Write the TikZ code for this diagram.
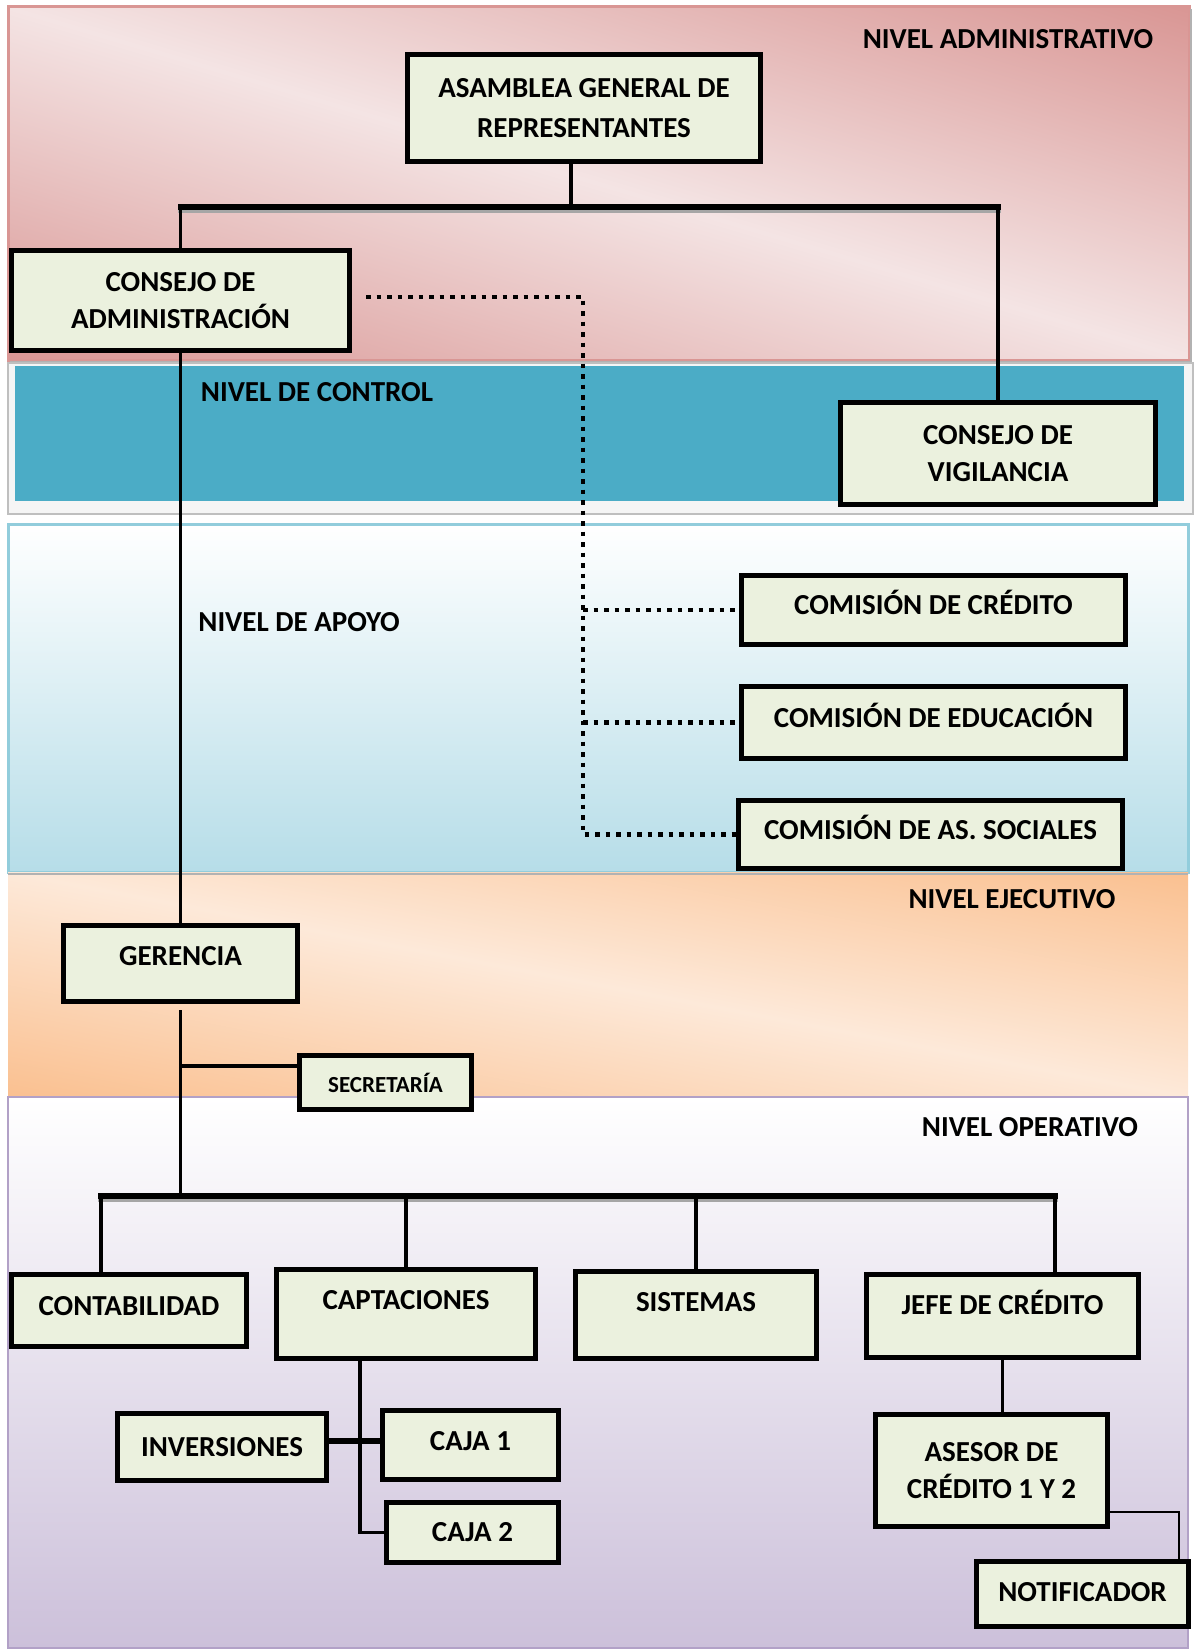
\documentclass[tikz,border=0pt]{standalone}
\usepackage{fontspec}
\setmainfont{Carlito}
\usetikzlibrary{positioning, calc}

\definecolor{admdark}{HTML}{D99694}
\definecolor{admlight}{HTML}{F4E4E4}
\definecolor{ctrlblue}{HTML}{4BACC6}
\definecolor{apoyoblue}{HTML}{B6DDE8}
\definecolor{apoyoline}{HTML}{92CDDC}
\definecolor{ejedark}{HTML}{FAC090}
\definecolor{ejelight}{HTML}{FDE9D9}
\definecolor{opelila}{HTML}{CCC0DA}
\definecolor{opeline}{HTML}{B2A1C7}
\definecolor{boxgreen}{HTML}{EBF1DE}

\begin{document}
\begin{tikzpicture}[x=1pt, y=-1pt,
    font=\fontsize{29}{37}\selectfont\bfseries,
    orgbox/.style={draw=black, line width=5pt, fill=boxgreen, align=center, inner sep=0pt},
    level/.style={inner sep=0pt},
    link/.style={line width=3.5pt},
    bus/.style={line width=6pt, line cap=rect},
    thinlink/.style={line width=1.5pt},
    dotlink/.style={line width=4.5pt, dash pattern=on 4.5pt off 6pt}]
    \useasboundingbox (0,0) rectangle (1195,1651);
    % Administrative level: diagonal gradient
    \begin{scope}
      \clip (8,7) rectangle (1189,360);
      \shade[transform canvas={rotate around={-16.6:(598.5,183.5)}}, top color=admdark, bottom color=admdark, middle color=admlight]
        (-101.5,-154.5) rectangle (1298.5,521.5);
    \end{scope}
    \draw[admdark, line width=3pt] (8,7) rectangle (1189,360);
    \draw[gray!60, line width=2pt] (10,362) -- (1191,362) -- (1191,9);
    % Control level
    \fill[gray!8] (8,363) rectangle (1193,514);
    \draw[gray!50, line width=2pt] (8,363) rectangle (1193,514);
    \fill[ctrlblue] (15,366) rectangle (1184,501);
    % Support level
    \shade[top color=white, bottom color=apoyoblue] (8,524) rectangle (1188,872);
    \draw[apoyoline, line width=3pt] (8,524) rectangle (1188,872);
    % Executive level: diagonal gradient
    \begin{scope}
      \clip (8,872) rectangle (1188,1097);
      \shade[transform canvas={rotate around={-10.8:(598,984.5)}}, top color=ejedark, bottom color=ejedark, middle color=ejelight]
        (-102,763.5) rectangle (1298,1205.5);
    \end{scope}
    % Operative level
    \shade[top color=white, bottom color=opelila] (8,1097) rectangle (1188,1648);
    \draw[opeline, line width=2pt] (8,1097) rectangle (1188,1648);
    \draw[gray!60, line width=2pt] (8,874) -- (1188,874);

    \node[level] (lvadm) at (1008,39) {NIVEL ADMINISTRATIVO};
    \node[level] (lvctrl) at (317,392) {NIVEL DE CONTROL};
    \node[level] (lvapoyo) at (299,622) {NIVEL DE APOYO};
    \node[level] (lveje) at (1012,899) {NIVEL EJECUTIVO};
    \node[level] (lvope) at (1030,1127) {NIVEL OPERATIVO};

    % Boxes
    \node[orgbox, minimum width=353, minimum height=106, font=\fontsize{29}{40}\selectfont\bfseries] (asam) at (584,108) {ASAMBLEA GENERAL DE\\REPRESENTANTES};
    \node[orgbox, minimum width=338, minimum height=100] (cadm) at (180.5,300.5) {CONSEJO DE\\ADMINISTRACIÓN};
    \node[orgbox, minimum width=315, minimum height=102] (cvig) at (998,453.5) {CONSEJO DE\\VIGILANCIA};
    \node[orgbox, minimum width=384, minimum height=69, text depth=15pt] (ccred) at (933.5,610) {COMISIÓN DE CRÉDITO};
    \node[orgbox, minimum width=384, minimum height=72, text depth=14pt] (cedu) at (933.5,722.5) {COMISIÓN DE EDUCACIÓN};
    \node[orgbox, minimum width=384, minimum height=68, text depth=14pt] (csoc) at (930.5,834.5) {COMISIÓN DE AS. SOCIALES};
    \node[orgbox, minimum width=234, minimum height=76, text depth=16pt] (ger) at (180.5,963.5) {GERENCIA};
    \node[orgbox, minimum width=172, minimum height=54, font=\fontsize{23}{28}\selectfont\bfseries] (sec) at (385.5,1082.5) {SECRETARÍA};
    \node[orgbox, minimum width=235, minimum height=72, text depth=9pt] (cont) at (129,1310.5) {CONTABILIDAD};
    \node[orgbox, minimum width=259, minimum height=89, text depth=28pt] (capt) at (406,1314) {CAPTACIONES};
    \node[orgbox, minimum width=241, minimum height=87, text depth=26pt] (sist) at (696,1315) {SISTEMAS};
    \node[orgbox, minimum width=272, minimum height=83, text depth=27pt] (jefe) at (1002.5,1316) {JEFE DE CRÉDITO};
    \node[orgbox, minimum width=209, minimum height=67] (inv) at (222,1447) {INVERSIONES};
    \node[orgbox, minimum width=176, minimum height=69, text depth=8pt] (caja1) at (470.5,1445) {CAJA 1};
    \node[orgbox, minimum width=172, minimum height=60] (caja2) at (472.5,1532.5) {CAJA 2};
    \node[orgbox, minimum width=232, minimum height=112] (ases) at (991.5,1470.5) {ASESOR DE\\CRÉDITO 1 Y 2};
    \node[orgbox, minimum width=212, minimum height=65, text depth=5pt] (notif) at (1082.5,1594) {NOTIFICADOR};

    % Upper links
    \coordinate (topjoin) at (571,207);
    \draw[link, line width=4pt] (asam.south -| topjoin) -- (topjoin);
    \draw[bus, gray!70] ([yshift=-3pt]cadm.north |- topjoin) -- ([yshift=-3pt]cvig.north |- topjoin);
    \draw[bus] (cadm.north |- topjoin) -- (cvig.north |- topjoin);
    \draw[link] (cadm.north |- topjoin) -- (cadm.north);
    \draw[link] (cvig.north |- topjoin) -- (cvig.north);
    \draw[link] (cadm.south) -- (ger.north);
    % Commissions (dotted)
    \coordinate (dotcorner) at (583,297);
    \draw[dotlink] ([xshift=14pt]cadm.east |- dotcorner) -- (dotcorner) -- (dotcorner |- csoc.west) -- (csoc.west);
    \draw[dotlink] (dotcorner |- ccred.west) -- (ccred.west);
    \draw[dotlink] (dotcorner |- cedu.west) -- (cedu.west);
    % Gerencia down
    \coordinate (opjoin) at (180.5,1196);
    \coordinate (secjoin) at (180.5,1066);
    \draw[link] ([yshift=-6pt]ger.south) -- (opjoin);
    \draw[link] (secjoin) -- (sec.west |- secjoin);
    % Operative bus
    \coordinate (contdrop) at (101,1196);
    \coordinate (jefedrop) at (1055,1196);
    \draw[bus, gray!70] ([yshift=-3pt]contdrop) -- ([yshift=-3pt]jefedrop);
    \draw[bus] (contdrop) -- (jefedrop);
    \draw[link] (contdrop) -- (contdrop |- cont.north);
    \draw[link] (capt.north |- opjoin) -- (capt.north);
    \draw[link] (sist.north |- opjoin) -- (sist.north);
    \draw[link] (jefedrop) -- (jefedrop |- jefe.north);
    % Captaciones
    \coordinate (captdown) at (360,1361);
    \draw[link] (capt.south -| captdown) -- (captdown |- caja2.west) -- (caja2.west);
    \draw[bus, line cap=butt] ([yshift=6pt]inv.east) -- ([yshift=6pt]inv.east -| caja1.west);
    % Credito
    \coordinate (notifcorner) at (1179,1512);
    \draw[link] (jefe.south) -- (jefe.south |- ases.north);
    \draw[thinlink] (ases.east |- notifcorner) -- (notifcorner) -- (notifcorner |- notif.north);
\end{tikzpicture}
\end{document}
